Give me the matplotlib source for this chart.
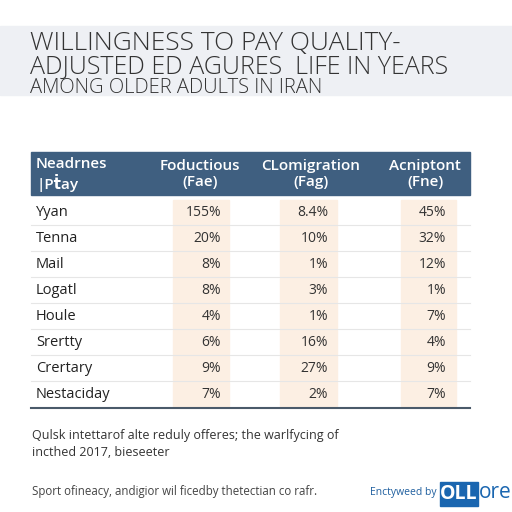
import matplotlib.pyplot as plt
from matplotlib.patches import Rectangle

# ---------------- data ----------------
title_lines = ["WILLINGNESS TO PAY QUALITY-",
               "ADJUSTED ED AGURES  LIFE IN YEARS"]
subtitle = "AMONG OLDER ADULTS IN IRAN"

headers = ["Neadrnes\n|Pṫay", "Foductious\n(Fae)", "CLomigration\n(Fag)", "Acniptont\n(Fne)"]
rows = ["Yyan", "Tenna", "Mail", "Logatl", "Houle", "Srertty", "Crertary", "Nestaciday"]
col_fae = ["155%", "20%", "8%", "8%", "4%", "6%", "9%", "7%"]
col_fag = ["8.4%", "10%", "1%", "3%", "1%", "16%", "27%", "2%"]
col_fne = ["45%", "32%", "12%", "1%", "7%", "4%", "9%", "7%"]

note = "Qulsk intettarof alte reduly offeres; the warlfycing of\nincthed 2017, bieseeter"
source = "Sport ofineacy, andigior wil ficedby thetectian co rafr."
credit = "Enctyweed by"

# ---------------- style ----------------
plt.rcParams['font.family'] = ['Open Sans', 'DejaVu Sans']
navy = "#3f5f80"
peach = "#fcefe3"
band = "#eef0f4"
txt = "#222222"
title_font = ["Open Sans", "DejaVu Sans"]
title_col = "#333333"

fig = plt.figure(figsize=(5.12, 5.12), dpi=100)
ax = fig.add_axes([0, 0, 1, 1])
ax.set_xlim(0, 512)
ax.set_ylim(512, 0)
ax.axis("off")

# title band
ax.add_patch(Rectangle((0, 26), 512, 69, color=band, zorder=0))
ax.text(30, 50.5, title_lines[0], fontsize=19, fontweight="light", color=title_col,
        va="baseline", family=title_font)
ax.text(30, 74, title_lines[1], fontsize=18, fontweight="light", color=title_col,
        va="baseline", family=title_font)
ax.text(30, 93, subtitle, fontsize=14.5, fontweight="light", color=title_col,
        va="baseline", family=title_font)

# header
left, right = 31, 470
ax.add_patch(Rectangle((left, 152), right - left, 43, color=navy, zorder=1))
col_x = [36, 200, 311, 425]
ax.text(col_x[0], 174, headers[0], color="white", fontsize=11, fontweight="semibold",
        ha="left", va="center", linespacing=1.2)
for x, h in zip(col_x[1:], headers[1:]):
    ax.text(x, 174, h, color="white", fontsize=11, fontweight="semibold",
            ha="center", va="center", linespacing=1.2)

# body
top = 199
row_h = 26
cell_x = [(173, 56), (280, 57), (401, 55)]
val_x = [221, 328, 446]
cols = [col_fae, col_fag, col_fne]
for i, name in enumerate(rows):
    y0 = top + i * row_h
    yc = y0 + row_h / 2
    for (cx, cw) in cell_x:
        ax.add_patch(Rectangle((cx, y0 + 1), cw, row_h - 2, color=peach, zorder=1))
    if i > 0:
        ax.plot([left, right], [y0, y0], color="#e6e6e6", lw=0.8, zorder=2)
    ax.text(36, yc, name, fontsize=10.5, color=txt, va="center", ha="left", zorder=3)
    for vx, col in zip(val_x, cols):
        ax.text(vx, yc, col[i], fontsize=10, color="#333333", va="center", ha="right", zorder=3)

ax.plot([left, right], [408, 408], color="#4a5a6a", lw=1.5)

# notes
ax.text(32, 444, note, fontsize=9.0, color="#333333", va="center", ha="left", linespacing=1.3)
ax.text(32, 492, source, fontsize=8.3, color="#444444", va="center", ha="left")

# credit + logo
ax.text(370, 492, credit, fontsize=7.5, color="#1f5f9f", va="center", ha="left")
ax.add_patch(Rectangle((440, 482), 38, 24, color="#1a66b0", zorder=1))
ax.text(459, 494, "OLL", fontsize=14, fontweight="bold", color="white", va="center", ha="center", zorder=2)
ax.text(479, 493, "ore", fontsize=15, color="#1a66b0", va="center", ha="left")

fig.savefig("out.png", dpi=100)
